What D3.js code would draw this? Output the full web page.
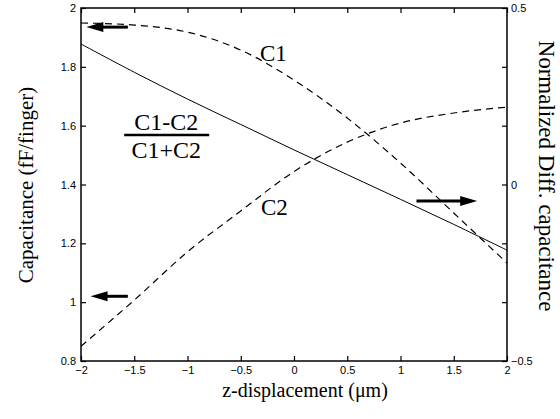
<!DOCTYPE html>
<html>
<head>
<meta charset="utf-8">
<script src="https://cdn.jsdelivr.net/npm/d3@7"></script>
<style>
  body { margin: 0; background: #fff; }
  svg { display: block; }
  .tick text { font-family: "Liberation Sans", Arial, sans-serif; font-size: 11px; fill: #000; }
  .lbl { font-family: "Liberation Serif", "Times New Roman", serif; fill: #000; }
</style>
</head>
<body>
<div id="chart"></div>
<script>
// z-displacement (um)
var zVals = [-2, -1.5, -1, -0.5, 0, 0.5, 1, 1.5, 2];
// capacitance, fF/finger
var c1Vals = [1.949, 1.942, 1.918, 1.857, 1.755, 1.626, 1.473, 1.303, 1.133];
var c2Vals = [0.850, 1.007, 1.171, 1.310, 1.444, 1.544, 1.609, 1.643, 1.663];
// normalized difference (C1-C2)/(C1+C2)
var diffVals = [0.398, 0.318, 0.242, 0.170, 0.098, 0.028, -0.042, -0.113, -0.186];

var xTicks = [-2, -1.5, -1, -0.5, 0, 0.5, 1, 1.5, 2];
var yTicks = [0.8, 1, 1.2, 1.4, 1.6, 1.8, 2];
var rightTicks = [-0.5, -1/3, -1/6, 0, 1/6, 1/3, 0.5];
var rightLabels = [-0.5, 0, 0.5];

// arrows pointing to the axis each curve belongs to (tail z, tip z, value, axis)
var arrows = [
    { z1: -1.56, z2: -1.95, v: 1.935, axis: "left" },
    { z1: -1.56, z2: -1.91, v: 1.020, axis: "left" },
    { z1: 1.15, z2: 1.72, v: -0.047, axis: "right" }
];

var margin = { top: 8, right: 53, bottom: 58, left: 81 };
var width = 560 - margin.left - margin.right;
var height = 419 - margin.top - margin.bottom;

var svg = d3.select("#chart")
    .append("svg")
    .attr("width", 560)
    .attr("height", 419)
    .append("g")
    .attr("transform", "translate(" + margin.left + "," + margin.top + ")");

var x = d3.scaleLinear().domain([-2, 2]).range([0, width]);
var y = d3.scaleLinear().domain([0.8, 2]).range([height, 0]);
var y2 = d3.scaleLinear().domain([-0.5, 0.5]).range([height, 0]);

function fmt(d) { return d3.format("")(+d.toFixed(2)); }

// axes, ticks pointing inward
svg.append("g")
    .attr("transform", "translate(0," + height + ")")
    .call(d3.axisBottom(x).tickValues(xTicks).tickSizeInner(-5).tickSizeOuter(0).tickPadding(5).tickFormat(fmt));
svg.append("g")
    .call(d3.axisTop(x).tickValues(xTicks).tickSizeInner(-5).tickSizeOuter(0).tickFormat(""));
svg.append("g")
    .call(d3.axisLeft(y).tickValues(yTicks).tickSizeInner(-5).tickSizeOuter(0).tickPadding(5).tickFormat(fmt));
svg.append("g")
    .attr("transform", "translate(" + width + ",0)")
    .call(d3.axisRight(y2).tickValues(rightTicks).tickSizeInner(-5).tickSizeOuter(0).tickPadding(4)
        .tickFormat(function(d) {
            var r = rightLabels.filter(function(v) { return Math.abs(v - d) < 1e-6; });
            return r.length ? fmt(d) : "";
        }));

svg.selectAll(".domain").remove();
svg.selectAll(".tick line").attr("stroke", "#000").attr("stroke-width", 1.2);

svg.append("rect")
    .attr("width", width)
    .attr("height", height)
    .attr("fill", "none")
    .attr("stroke", "#000")
    .attr("stroke-width", 1.5);

// curves
var line1 = d3.line()
    .x(function(d, i) { return x(zVals[i]); })
    .y(function(d) { return y(d); })
    .curve(d3.curveMonotoneX);
var line2 = d3.line()
    .x(function(d, i) { return x(zVals[i]); })
    .y(function(d) { return y2(d); })
    .curve(d3.curveCatmullRom);

svg.append("path").datum(c1Vals)
    .attr("d", line1).attr("fill", "none").attr("stroke", "#000")
    .attr("stroke-width", 1.2).attr("stroke-dasharray", "7,5");
svg.append("path").datum(c2Vals)
    .attr("d", line1).attr("fill", "none").attr("stroke", "#000")
    .attr("stroke-width", 1.2).attr("stroke-dasharray", "7,5");
svg.append("path").datum(diffVals)
    .attr("d", line2).attr("fill", "none").attr("stroke", "#000")
    .attr("stroke-width", 1);

// arrows
arrows.forEach(function(a) {
    var yy = a.axis == "left" ? y(a.v) : y2(a.v);
    var x1 = x(a.z1), x2 = x(a.z2);
    var dir = x2 > x1 ? 1 : -1;
    svg.append("line")
        .attr("x1", x1).attr("x2", x2 - dir * 12)
        .attr("y1", yy).attr("y2", yy)
        .attr("stroke", "#000").attr("stroke-width", 3);
    svg.append("path")
        .attr("d", "M" + x2 + "," + yy + "L" + (x2 - dir * 17) + "," + (yy - 5) +
            "L" + (x2 - dir * 17) + "," + (yy + 5) + "Z")
        .attr("fill", "#000");
});

// curve labels
svg.append("text").attr("class", "lbl")
    .attr("x", x(-0.32)).attr("y", y(1.82))
    .attr("font-size", 23).text("C1");
svg.append("text").attr("class", "lbl")
    .attr("x", x(-0.31)).attr("y", y(1.296))
    .attr("font-size", 23).text("C2");

var fx = x(-1.2), fy = y(1.568);
svg.append("text").attr("class", "lbl")
    .attr("x", fx).attr("y", fy - 5).attr("text-anchor", "middle")
    .attr("font-size", 24).text("C1-C2");
svg.append("line")
    .attr("x1", fx - 42).attr("x2", fx + 43)
    .attr("y1", fy).attr("y2", fy)
    .attr("stroke", "#000").attr("stroke-width", 2.5);
svg.append("text").attr("class", "lbl")
    .attr("x", fx).attr("y", fy + 23).attr("text-anchor", "middle")
    .attr("font-size", 24).text("C1+C2");

// axis titles
svg.append("text").attr("class", "lbl")
    .attr("x", width / 2 + 11).attr("y", height + 36)
    .attr("text-anchor", "middle").attr("font-size", 20)
    .text("z-displacement (\u03bcm)");
svg.append("text").attr("class", "lbl")
    .attr("transform", "translate(" + (33 - margin.left) + "," + (185 - margin.top) + ") rotate(-90)")
    .attr("text-anchor", "middle").attr("font-size", 21)
    .text("Capacitance (fF/finger)");
svg.append("text").attr("class", "lbl")
    .attr("transform", "translate(" + (539 - margin.left) + "," + (176 - margin.top) + ") rotate(90)")
    .attr("text-anchor", "middle").attr("font-size", 23)
    .text("Normalized Diff. capacitance");
</script>
</body>
</html>
